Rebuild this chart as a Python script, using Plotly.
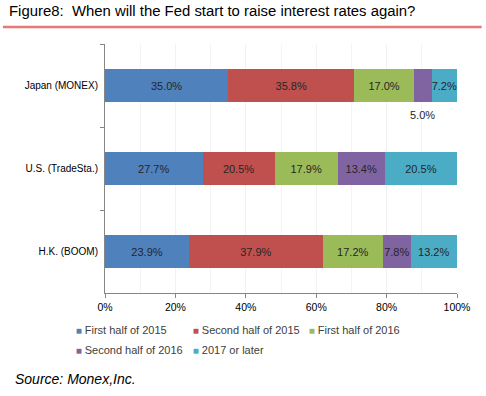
import plotly.graph_objects as go

categories = ["Japan (MONEX)", "U.S. (TradeSta.)", "H.K. (BOOM)"]
series_names = ["First half of 2015", "Second half of 2015", "First half of 2016",
                "Second half of 2016", "2017 or later"]
first_2015 = [35.0, 27.7, 23.9]
second_2015 = [35.8, 20.5, 37.9]
first_2016 = [17.0, 17.9, 17.2]
second_2016 = [5.0, 13.4, 7.8]
later_2017 = [7.2, 20.5, 13.2]
series_values = [first_2015, second_2015, first_2016, second_2016, later_2017]
colors = ["#4F81BD", "#C0504D", "#9BBB59", "#8064A2", "#4BACC6"]
x_ticks = [0, 20, 40, 60, 80, 100]
x_tick_labels = ["0%", "20%", "40%", "60%", "80%", "100%"]

# legend entry placement (paper coords): one single-entry legend per series
legend_pos = [(-0.197, -0.091), (0.1355, -0.091), (0.465, -0.091),
              (-0.197, -0.171), (0.1355, -0.171)]

fig = go.Figure()
label_font = dict(family="Liberation Sans, Arial, sans-serif", size=11, color="#262626")
outside_ann = []
legend_ids = ["legend", "legend2", "legend3", "legend4", "legend5"]
for s_i, (name, vals, col) in enumerate(zip(series_names, series_values, colors)):
    texts = []
    for c_i, v in enumerate(vals):
        if v < 6:
            texts.append("")
            base = sum(series_values[k][c_i] for k in range(s_i))
            outside_ann.append((base + v / 2, categories[c_i], f"{v:.1f}%"))
        else:
            texts.append(f"{v:.1f}%")
    fig.add_trace(go.Bar(
        y=categories, x=vals, name=name, orientation="h",
        marker=dict(color=col, line=dict(width=0)),
        text=texts, textposition="inside", insidetextanchor="middle",
        textangle=0, textfont=label_font, constraintext="none",
        showlegend=False,
    ))
    fig.add_trace(go.Scatter(
        x=[None], y=[None], mode="markers",
        name=f'<span style="color:{col};font-size:10px">■</span> {name}',
        marker=dict(size=1, color="rgba(0,0,0,0)"),
        showlegend=True, legend=legend_ids[s_i],
    ))

for xv, cat, t in outside_ann:
    fig.add_annotation(x=xv, y=cat, text=t, showarrow=False, yshift=-29,
                       font=label_font, xref="x", yref="y")

legend_layouts = {}
for lid, (lx, ly) in zip(legend_ids, legend_pos):
    legend_layouts[lid] = dict(orientation="h", x=lx, xanchor="left", y=ly, yanchor="top",
                               itemwidth=30, font=dict(size=11, color="#404040"),
                               bgcolor="rgba(0,0,0,0)")

fig.update_layout(
    width=486, height=396,
    margin=dict(l=105, r=29, t=44, b=103, autoexpand=False),
    paper_bgcolor="white", plot_bgcolor="white",
    barmode="stack", bargap=0.61,
    font=dict(family="Liberation Sans, Arial, sans-serif", size=11, color="#404040"),
    xaxis=dict(range=[0, 100], tickvals=x_ticks, ticktext=x_tick_labels,
               showgrid=True, gridcolor="#f2f2f2", gridwidth=1,
               minor=dict(dtick=10, showgrid=True, gridcolor="#f4f4f4"),
               showline=True, linecolor="#868686", linewidth=1,
               ticks="outside", ticklen=4, tickcolor="#868686", automargin=False,
               tickfont=dict(size=10.5, color="#000000"), zeroline=False, fixedrange=True),
    yaxis=dict(categoryorder="array", categoryarray=categories, autorange="reversed",
               showline=True, linecolor="#868686", linewidth=1, automargin=False,
               ticks="outside", ticklen=4, tickcolor="#868686", tickson="boundaries",
               showgrid=False, tickfont=dict(size=10, color="#000000"), ticklabelstandoff=4,
               fixedrange=True),
    **legend_layouts,
)

fig.add_annotation(x=0, y=1, xref="paper", yref="paper", xanchor="left", yanchor="top",
                   text="Figure8:  When will the Fed start to raise interest rates again?",
                   showarrow=False, font=dict(size=14.9, color="#000000"),
                   xshift=-98, yshift=43)
line_y = 1.0 + 17 / 249
fig.add_shape(type="line", xref="paper", yref="paper", x0=-0.29, x1=1.07,
              y0=line_y, y1=line_y, line=dict(color="#E87878", width=2.5))
fig.add_annotation(x=0, y=0, xref="paper", yref="paper", xanchor="left", yanchor="middle",
                   text="<i>Source: Monex,Inc.</i>", showarrow=False,
                   font=dict(size=14, color="#000000"), xshift=-92, yshift=-86)

fig.write_html("out.html", config={"displayModeBar": False},
               post_script="document.body.style.margin='0';document.body.style.overflow='hidden';")
